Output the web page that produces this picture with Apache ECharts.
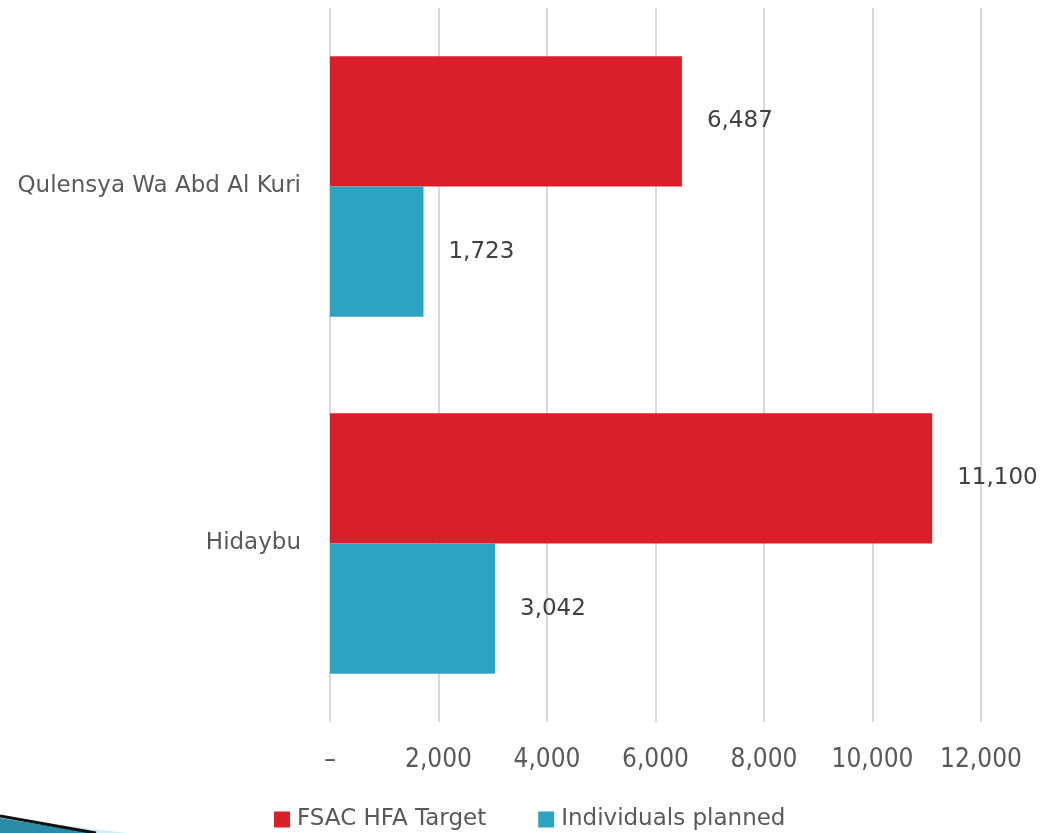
<!DOCTYPE html>
<html>
<head>
<meta charset="utf-8">
<script src="https://cdn.jsdelivr.net/npm/echarts@6/dist/echarts.min.js"></script>
<style>html,body{margin:0;padding:0;background:#fff;}#c{width:1043px;height:833px;}</style>
</head>
<body>
<div id="c"></div>
<script>
const categories = ['Hidaybu', 'Qulensya Wa Abd Al Kuri'];
const seriesNames = ['FSAC HFA Target', 'Individuals planned'];
const targetValues = [11100, 6487];
const plannedValues = [3042, 1723];
const tickLabels = { 0: '–', 2000: '2,000', 4000: '4,000', 6000: '6,000', 8000: '8,000', 10000: '10,000', 12000: '12,000' };

const fmt = v => v.toLocaleString('en-US');
const chart = echarts.init(document.getElementById('c'), null, { renderer: 'canvas' });
const labelStyle = {
  show: true, position: 'right', distance: 25,
  fontFamily: 'DejaVu Sans', fontSize: 23, color: '#404040',
  formatter: p => fmt(p.value)
};
chart.setOption({
  animation: false,
  backgroundColor: '#ffffff',
  grid: { left: 330, right: 62, top: 8, bottom: 111, containLabel: false },
  legend: {
    bottom: -3, left: 269,
    itemWidth: 16, itemHeight: 16, itemGap: 52,
    icon: 'rect',
    textStyle: { fontFamily: 'DejaVu Sans', fontSize: 23, color: '#595959', padding: [0, 0, 0, 2] },
    data: seriesNames
  },
  xAxis: {
    type: 'value', min: 0, max: 12000, interval: 2000,
    axisLine: { show: false }, axisTick: { show: false },
    splitLine: { show: true, lineStyle: { color: '#d9d9d9', width: 2 } },
    axisLabel: {
      margin: 25,
      fontFamily: 'DejaVu Sans Condensed', fontSize: 26, color: '#595959',
      formatter: v => tickLabels[v] !== undefined ? tickLabels[v] : fmt(v)
    }
  },
  yAxis: {
    type: 'category', data: categories,
    axisLine: { show: false }, axisTick: { show: false },
    axisLabel: { margin: 29, fontFamily: 'DejaVu Sans', fontSize: 23, color: '#595959' }
  },
  graphic: [
    { type: 'polygon', shape: { points: [[30, 822], [128, 833], [80, 833]] }, style: { fill: '#cfeef6' } },
    { type: 'polygon', shape: { points: [[0, 818], [92, 833], [0, 833]] }, style: { fill: '#2a8ca6' } },
    { type: 'line', shape: { x1: 0, y1: 816, x2: 96, y2: 833 }, style: { stroke: '#111', lineWidth: 3 } }
  ],
  series: [
    { name: seriesNames[0], type: 'bar', data: targetValues, itemStyle: { color: '#d9202a' },
      barGap: '0%', barCategoryGap: '27%', label: labelStyle },
    { name: seriesNames[1], type: 'bar', data: plannedValues, itemStyle: { color: '#2ea3c1' },
      barGap: '0%', barCategoryGap: '27%', label: labelStyle }
  ]
});
</script>
</body>
</html>
